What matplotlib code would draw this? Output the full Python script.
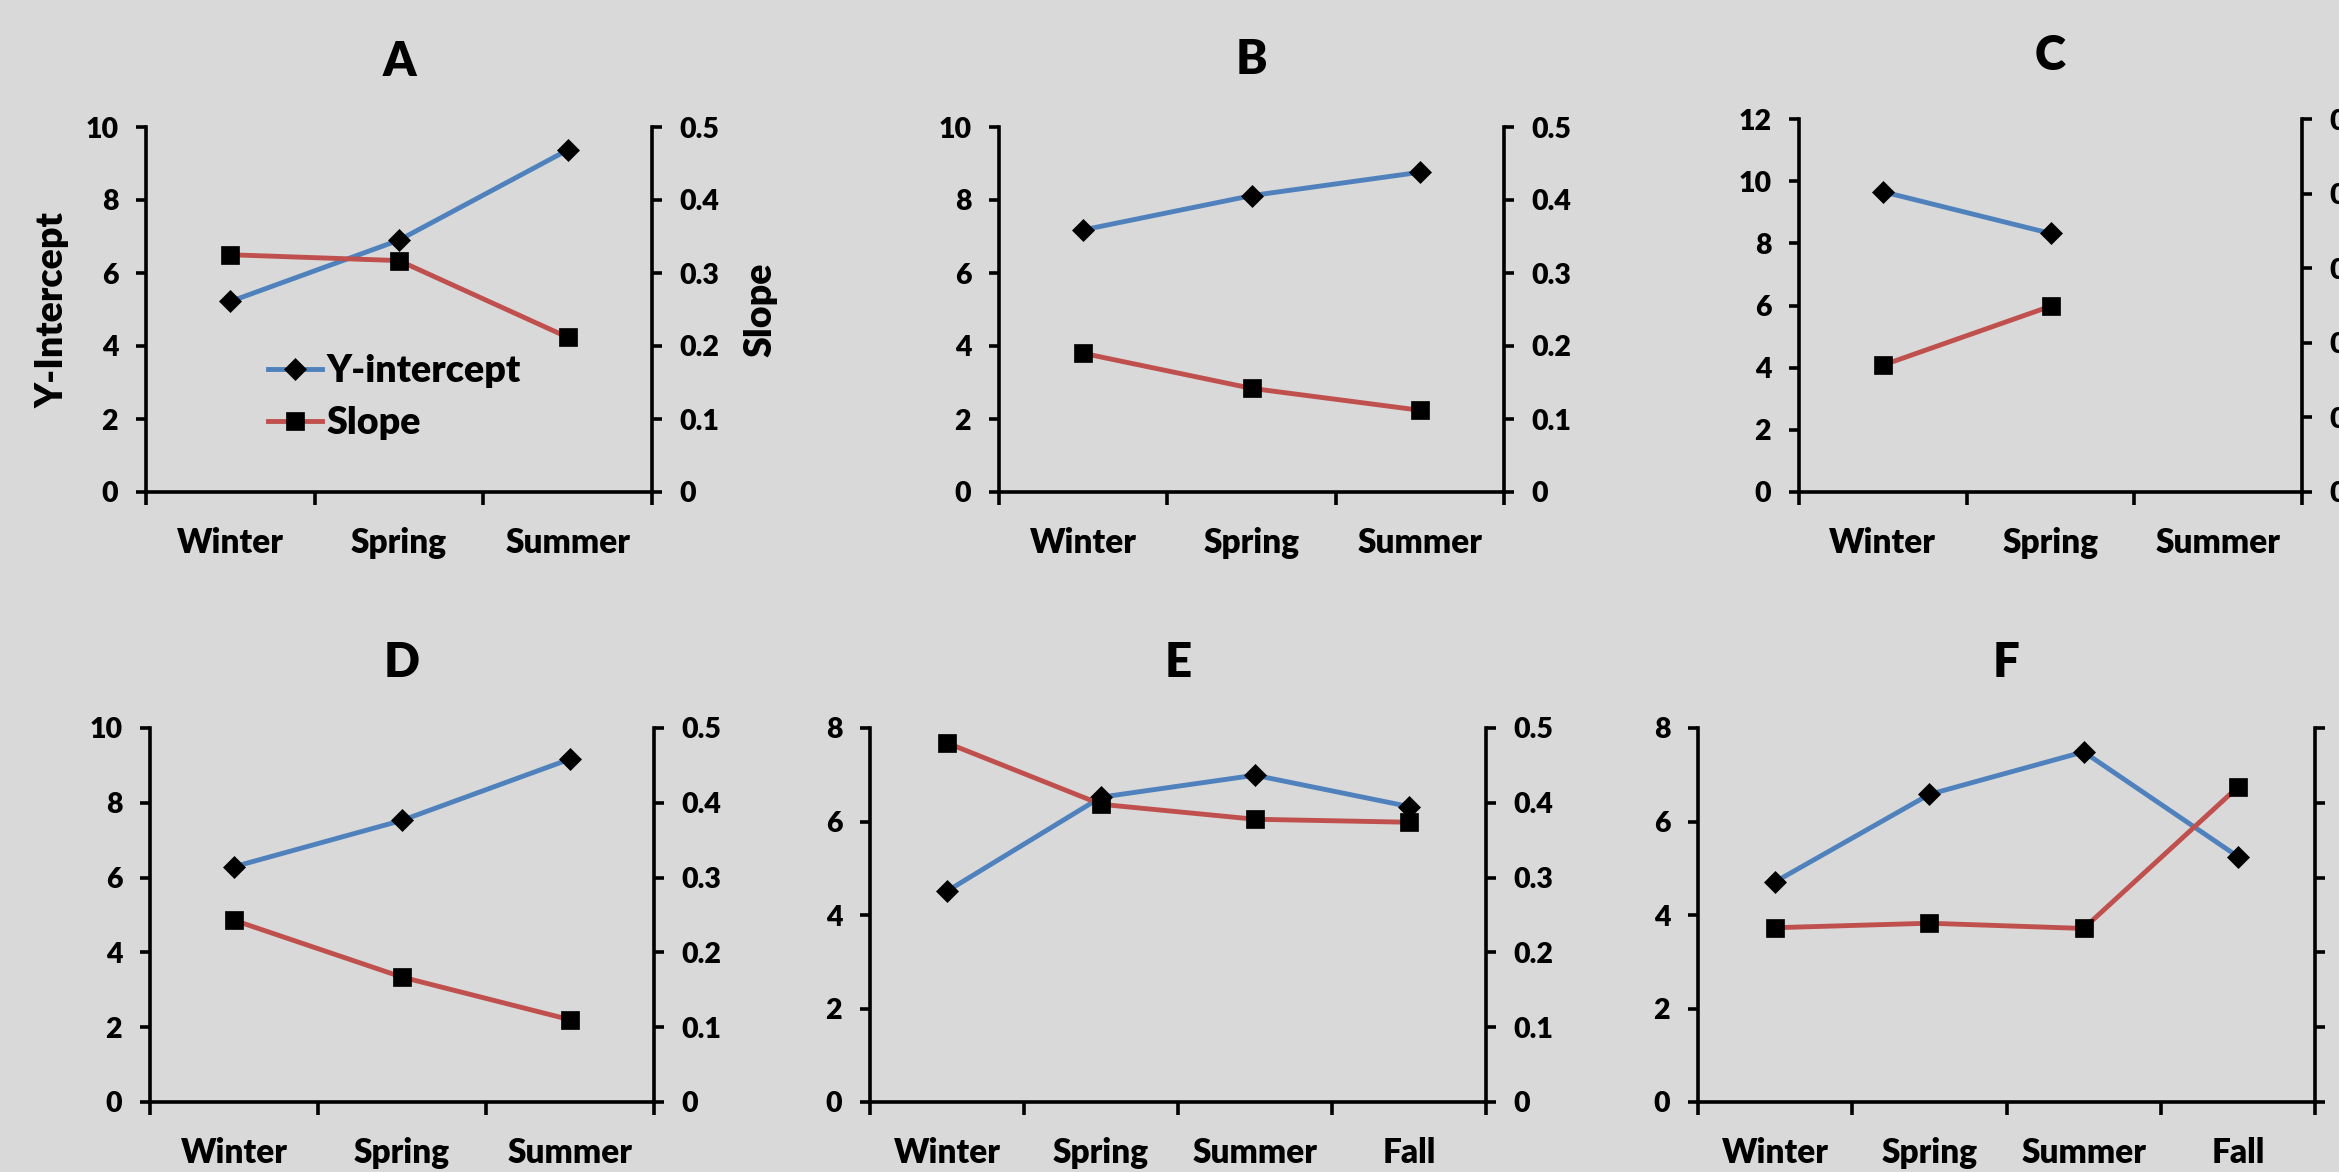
import numpy as np
import matplotlib
matplotlib.use("Agg")
import matplotlib.pyplot as plt

W, H = 2339, 1172
BG = "#d9d9d9"
BLUE = "#4f81bd"
RED = "#c0504d"

seasons3 = ["Winter", "Spring", "Summer"]
seasons4 = ["Winter", "Spring", "Summer", "Fall"]

a_intercept = [5.22, 6.90, 9.37]
a_slope = [0.325, 0.317, 0.212]
b_intercept = [7.18, 8.12, 8.76]
b_slope = [0.190, 0.142, 0.112]
c_intercept = [9.66, 8.32, np.nan]
c_slope = [0.170, 0.249, np.nan]
d_intercept = [6.29, 7.53, 9.17]
d_slope = [0.243, 0.167, 0.110]
e_intercept = [4.51, 6.52, 6.99, 6.32]
e_slope = [0.480, 0.398, 0.378, 0.374]
f_intercept = [4.71, 6.58, 7.49, 5.25]
f_slope = [0.233, 0.239, 0.232, 0.421]

slope_ticks = [0, 0.1, 0.2, 0.3, 0.4, 0.5]
slope_labels = ["0", "0.1", "0.2", "0.3", "0.4", "0.5"]

plt.rcParams["font.family"] = ["Lato", "DejaVu Sans"]
plt.rcParams["font.weight"] = 800

SPINE_W = 2.6
LINE_W = 3.5
TICK_FS = 20.5


def px_rect(left, right, top, bottom):
    return [left / W, 1 - bottom / H, (right - left) / W, (bottom - top) / H]


def draw_panel(fig, box, title_base, title, cats, intercept, slope, ymax, ystep):
    left, right, top, bottom = box
    ax = fig.add_axes(px_rect(left, right, top, bottom))
    ax.set_facecolor(BG)
    n = len(cats)
    x = np.arange(n) + 0.5

    l1, = ax.plot(x, intercept, color=BLUE, lw=LINE_W, marker="D", ms=11.5,
                  mfc="black", mec="black", mew=0.5, label="Y-intercept",
                  clip_on=False, zorder=3)
    ax.set_xlim(0, n)
    ax.set_ylim(0, ymax)
    ax.set_yticks(np.arange(0, ymax + 0.1, ystep))
    ax.set_xticks(np.arange(n + 1))
    ax.set_xticklabels([])
    ax.set_xticks(x, minor=True)
    ax.set_xticklabels(cats, minor=True)
    ax.tick_params(axis="x", which="major", direction="out", length=9,
                   width=SPINE_W)
    ax.tick_params(axis="x", which="minor", length=0, pad=25, labelsize=24)
    ax.tick_params(axis="y", direction="out", length=7, width=SPINE_W,
                   pad=13, labelsize=TICK_FS)
    ax.spines["top"].set_visible(False)
    ax.spines["right"].set_visible(False)
    ax.spines["left"].set_linewidth(SPINE_W)
    ax.spines["bottom"].set_linewidth(SPINE_W)

    ax2 = ax.twinx()
    l2, = ax2.plot(x, slope, color=RED, lw=LINE_W, marker="s", ms=13.5,
                   mfc="black", mec="black", mew=0.5, label="Slope",
                   clip_on=False, zorder=3)
    ax2.set_ylim(0, 0.5)
    ax2.set_yticks(slope_ticks)
    ax2.set_yticklabels(slope_labels)
    ax2.tick_params(axis="y", direction="out", length=7, width=SPINE_W,
                    pad=13, labelsize=TICK_FS)
    for side in ("top", "left", "bottom"):
        ax2.spines[side].set_visible(False)
    ax2.spines["right"].set_linewidth(SPINE_W)

    fig.text((left + right) / 2 / W, 1 - title_base / H, title,
             ha="center", va="baseline", fontsize=34)
    return ax, ax2, l1, l2


fig = plt.figure(figsize=(W / 100, H / 100), dpi=100)
fig.patch.set_facecolor(BG)

ax, ax2, l1, l2 = draw_panel(fig, (146, 652, 127, 492), 76, "A", seasons3,
                             a_intercept, a_slope, 10, 2)
draw_panel(fig, (999, 1504, 127, 492), 74, "B", seasons3,
           b_intercept, b_slope, 10, 2)
draw_panel(fig, (1799, 2302, 119, 492), 70, "C", seasons3,
           c_intercept, c_slope, 12, 2)
draw_panel(fig, (150, 654, 728, 1102), 677, "D", seasons3,
           d_intercept, d_slope, 10, 2)
draw_panel(fig, (870, 1486, 728, 1102), 677, "E", seasons4,
           e_intercept, e_slope, 8, 2)
draw_panel(fig, (1698, 2315, 728, 1102), 677, "F", seasons4,
           f_intercept, f_slope, 8, 2)

fig.text(53 / W, 1 - 310 / H, "Y-Intercept", rotation=90, ha="center",
         va="center", fontsize=27)
fig.text(760 / W, 1 - 310 / H, "Slope", rotation=90, ha="center",
         va="center", fontsize=27)

ax2.legend(handles=[l1, l2], loc="center left",
           bbox_to_anchor=(268 / W, 1 - 397 / H),
           bbox_transform=fig.transFigure, frameon=False, fontsize=27,
           handlelength=1.45, handletextpad=0.1, labelspacing=0.5,
           borderpad=0, borderaxespad=0, numpoints=1)

fig.savefig("out.png", dpi=100, facecolor=BG)
